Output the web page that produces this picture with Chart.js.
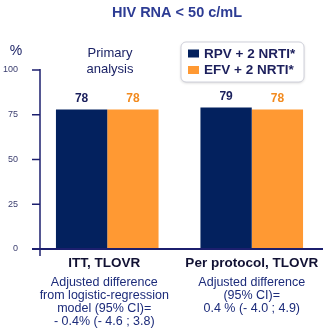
<!DOCTYPE html>
<html>
<head>
<meta charset="utf-8">
<script src="https://cdn.jsdelivr.net/npm/chart.js@4"></script>
<style>
  html, body { margin: 0; padding: 0; background: #fff; }
  #wrap { width: 328px; height: 333px; position: relative; }
</style>
</head>
<body>
<div id="wrap"><canvas id="chart"></canvas></div>
<script>
// data
const categories = ['ITT, TLOVR', 'Per protocol, TLOVR'];
const seriesLabels = ['RPV + 2 NRTI*', 'EFV + 2 NRTI*'];
const rpvValues = [78, 79];
const efvValues = [78, 78];
const yTicks = [0, 25, 50, 75, 100];
const notes = [
    ['Adjusted difference', 'from logistic-regression', 'model (95% CI)=', '- 0.4% (- 4.6 ; 3.8)'],
    ['Adjusted difference', '(95% CI)=', '0.4 % (- 4.0 ; 4.9)']
];
const titleText = 'HIV RNA < 50 c/mL';
const subTitle = ['Primary', 'analysis'];

const NAVY = '#03215e';
const ORANGE = '#ff9933';
const FONT = '"Liberation Sans", Arial, sans-serif';

// 文字、軸線、圖例
const decorPlugin = {
    id: 'decor',
    afterDatasetsDraw(chart) {
        const ctx = chart.ctx;
        const y = chart.scales.y;
        const x = chart.scales.x;
        ctx.save();

        // 標題
        ctx.textAlign = 'center';
        ctx.textBaseline = 'middle';
        ctx.fillStyle = '#2d3c94';
        ctx.font = 'bold 14.5px ' + FONT;
        ctx.fillText(titleText, 177, 13);

        // %
        ctx.fillStyle = '#1c2366';
        ctx.font = '14px ' + FONT;
        ctx.fillText('%', 16, 51);

        // Primary analysis
        ctx.font = '13px ' + FONT;
        ctx.fillText(subTitle[0], 110, 53);
        ctx.fillText(subTitle[1], 110, 69);

        // 軸線
        const axisX = 40;
        const y0 = y.getPixelForValue(0);
        ctx.strokeStyle = '#1c1f6e';
        ctx.lineWidth = 1.5;
        ctx.beginPath();
        ctx.moveTo(axisX, y.getPixelForValue(100) - 1);
        ctx.lineTo(axisX, y0 + 7);
        ctx.stroke();
        yTicks.forEach(v => {
            const py = y.getPixelForValue(v);
            ctx.beginPath();
            ctx.moveTo(32, py);
            ctx.lineTo(axisX, py);
            ctx.stroke();
        });
        ctx.lineWidth = 2;
        ctx.beginPath();
        ctx.moveTo(32, y0);
        ctx.lineTo(323, y0);
        ctx.stroke();

        // 數值標籤
        ctx.font = 'bold 12px ' + FONT;
        const labelColors = ['#1a1f5c', '#f28a1e'];
        chart.data.datasets.forEach((ds, di) => {
            const meta = chart.getDatasetMeta(di);
            meta.data.forEach((bar, i) => {
                ctx.fillStyle = labelColors[di];
                ctx.fillText(String(ds.data[i]), bar.x, bar.y - 11);
            });
        });

        // 類別與註解
        categories.forEach((c, i) => {
            const cx = x.getPixelForValue(i) - (i === 0 ? 3 : 0);
            ctx.fillStyle = '#111133';
            ctx.font = 'bold 13.5px ' + FONT;
            ctx.fillText(c, cx, 263);
            ctx.fillStyle = '#1c2b7a';
            ctx.font = '12.5px ' + FONT;
            notes[i].forEach((line, li) => {
                ctx.fillText(line, cx, 283 + li * 12.8);
            });
        });

        // 圖例
        const bx = 181, by = 42, bw = 123, bh = 40;
        ctx.shadowColor = 'rgba(0,0,0,0.18)';
        ctx.shadowBlur = 3;
        ctx.shadowOffsetY = 1;
        ctx.fillStyle = '#fff';
        ctx.beginPath();
        ctx.roundRect(bx, by, bw, bh, 5);
        ctx.fill();
        ctx.shadowColor = 'transparent';
        ctx.strokeStyle = '#cfd0da';
        ctx.lineWidth = 1;
        ctx.stroke();
        ctx.textAlign = 'left';
        ctx.font = 'bold 13.5px ' + FONT;
        chart.data.datasets.forEach((ds, di) => {
            const ly = 53.5 + di * 16.5;
            ctx.fillStyle = ds.backgroundColor;
            ctx.fillRect(188, ly - 4, 11, 8);
            ctx.fillStyle = '#1c1f5c';
            ctx.fillText(ds.label, 204, ly + 0.5);
        });

        ctx.restore();
    }
};

const ctx = document.getElementById('chart').getContext('2d');
new Chart(ctx, {
    type: 'bar',
    data: {
        labels: categories,
        datasets: [
            { label: seriesLabels[0], data: rpvValues, backgroundColor: NAVY },
            { label: seriesLabels[1], data: efvValues, backgroundColor: ORANGE }
        ]
    },
    options: {
        responsive: true,
        maintainAspectRatio: false,
        animation: false,
        layout: { padding: { top: 70, bottom: 84, left: 0, right: 4 } },
        datasets: {
            bar: { categoryPercentage: 0.71, barPercentage: 1 }
        },
        scales: {
            x: { display: false },
            y: {
                min: 0,
                max: 100,
                afterFit: s => { s.width = 35; },
                afterBuildTicks: s => { s.ticks = yTicks.map(v => ({ value: v })); },
                grid: { display: false },
                border: { display: false },
                ticks: {
                    padding: 9,
                    color: '#3a3d6e',
                    font: { family: FONT, size: 9 }
                }
            }
        },
        plugins: {
            legend: { display: false },
            tooltip: { enabled: false }
        }
    },
    plugins: [decorPlugin]
});
</script>
</body>
</html>
